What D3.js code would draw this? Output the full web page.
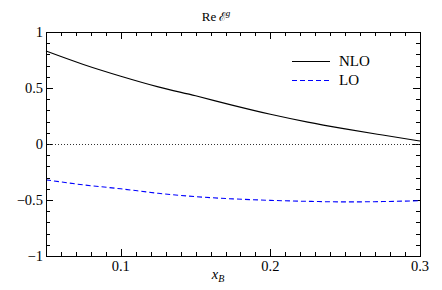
<!DOCTYPE html>
<html lang="en">
  <head>
    <meta charset="utf-8">
    <title>Re E^g</title>
    <style>
      body { margin: 0; background: #fff; }
    </style>
  </head>
  <body>
    <svg width="442" height="290" font-family="'Liberation Serif', 'DejaVu Serif', serif"></svg>

    <script src="https://cdn.jsdelivr.net/npm/d3@7"></script>
    <script>

    // values
    var xB = [0.05, 0.075, 0.1, 0.125, 0.15, 0.175, 0.2, 0.225, 0.25, 0.275, 0.3];
    var nlo = [0.83, 0.71, 0.605, 0.51, 0.43, 0.345, 0.265, 0.195, 0.135, 0.08, 0.027];
    var lo = [-0.32, -0.365, -0.40, -0.44, -0.47, -0.49, -0.503, -0.512, -0.517, -0.514, -0.506];
    var xTicks = [0.1, 0.2, 0.3];
    var yTicks = [-1, -0.5, 0, 0.5, 1];
    var yTickLabels = ["\u22121", "\u22120.5", "0", "0.5", "1"];

    var svg = d3.select("svg"),
        mLeft = 46, mRight = 420, mTop = 32, mBottom = 256;

    var x = d3.scaleLinear().domain([0.05, 0.3]).range([mLeft, mRight]);
    var y = d3.scaleLinear().domain([-1, 1]).range([mBottom, mTop]);

    var minorX = d3.range(5, 31).map(function(d) { return d / 100; });
    var minorY = d3.range(-10, 11).map(function(d) { return d / 10; });

    // inward ticks on all four sides
    function ticks(g, scale, vals, len, side) {
      g.selectAll(null).data(vals).enter().append("line")
        .attr("stroke", "#000").attr("stroke-width", 1)
        .each(function(d) {
          var s = d3.select(this), p = Math.round(scale(d)) + 0.5;
          if (side == "b") s.attr("x1", p).attr("x2", p).attr("y1", mBottom).attr("y2", mBottom - len);
          if (side == "t") s.attr("x1", p).attr("x2", p).attr("y1", mTop).attr("y2", mTop + len);
          if (side == "l") s.attr("y1", p).attr("y2", p).attr("x1", mLeft).attr("x2", mLeft + len);
          if (side == "r") s.attr("y1", p).attr("y2", p).attr("x1", mRight).attr("x2", mRight - len);
        });
    }

    var axes = svg.append("g");
    ["b", "t"].forEach(function(s) {
      ticks(axes, x, minorX.filter(function(d) { return Math.abs(d * 10 - Math.round(d * 10)) > 1e-6; }), 4, s);
      ticks(axes, x, xTicks, 7, s);
    });
    ["l", "r"].forEach(function(s) {
      ticks(axes, y, minorY.filter(function(d) { return Math.abs(d * 2 - Math.round(d * 2)) > 1e-6; }), 4, s);
      ticks(axes, y, yTicks, 7, s);
    });

    // zero line
    svg.append("line")
      .attr("x1", mLeft).attr("x2", mRight)
      .attr("y1", Math.round(y(0)) + 0.5).attr("y2", Math.round(y(0)) + 0.5)
      .attr("stroke", "#333").attr("stroke-width", 1)
      .attr("stroke-dasharray", "1,2");

    var line = d3.line().curve(d3.curveMonotoneX);

    svg.append("path")
      .attr("d", line(xB.map(function(d, i) { return [x(d), y(nlo[i])]; })))
      .attr("fill", "none").attr("stroke", "#000").attr("stroke-width", 1.1);

    svg.append("path")
      .attr("d", line(xB.map(function(d, i) { return [x(d), y(lo[i])]; })))
      .attr("fill", "none").attr("stroke", "#0000ff").attr("stroke-width", 1.1)
      .attr("stroke-dasharray", "5,3");

    // frame
    svg.append("rect")
      .attr("x", mLeft + 0.5).attr("y", mTop + 0.5)
      .attr("width", mRight - mLeft).attr("height", mBottom - mTop)
      .attr("fill", "none").attr("stroke", "#000").attr("stroke-width", 1);

    // tick labels
    svg.selectAll("text.xt").data(xTicks).enter().append("text")
      .attr("class", "xt")
      .attr("x", function(d) { return x(d); })
      .attr("y", 271)
      .attr("text-anchor", "middle")
      .attr("font-size", 14.5)
      .text(function(d) { return d; });

    svg.selectAll("text.yt").data(yTicks).enter().append("text")
      .attr("class", "yt")
      .attr("x", 43)
      .attr("y", function(d) { return y(d) + 5; })
      .attr("text-anchor", "end")
      .attr("font-size", 14.5)
      .text(function(d, i) { return yTickLabels[i]; });

    // title
    var title = svg.append("text")
      .attr("x", 216).attr("y", 21)
      .attr("text-anchor", "middle")
      .attr("font-size", 13);
    title.append("tspan").text("Re\u2009");
    title.append("tspan").attr("font-family", "'DejaVu Serif'").attr("font-size", 12).text("\u2130");
    title.append("tspan").attr("dy", -5).attr("font-size", 9).attr("font-style", "italic").text("g");

    // x label
    var xl = svg.append("text")
      .attr("x", 218).attr("y", 279)
      .attr("text-anchor", "middle")
      .attr("font-size", 14.5);
    xl.append("tspan").attr("font-style", "italic").text("x");
    xl.append("tspan").attr("dy", 3).attr("font-size", 10).attr("font-style", "italic").text("B");

    // legend
    var legend = [
      { name: "NLO", color: "#000", dash: null, y: 61 },
      { name: "LO", color: "#0000ff", dash: "5,3", y: 80 }
    ];
    legend.forEach(function(d) {
      svg.append("line")
        .attr("x1", 292).attr("x2", 330)
        .attr("y1", d.y + 0.5).attr("y2", d.y + 0.5)
        .attr("stroke", d.color).attr("stroke-width", 1.1)
        .attr("stroke-dasharray", d.dash);
      svg.append("text")
        .attr("x", 339).attr("y", d.y + 5)
        .attr("font-size", 15)
        .text(d.name);
    });

    </script>
  </body>
</html>
